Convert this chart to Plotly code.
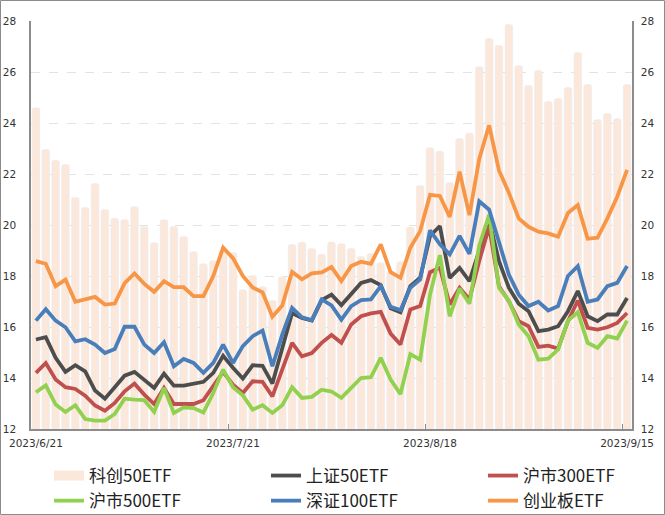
import plotly.graph_objects as go

# ---- data ----
dates = [
    "2023/6/21", "2023/6/26", "2023/6/27", "2023/6/28", "2023/6/29", "2023/6/30",
    "2023/7/3", "2023/7/4", "2023/7/5", "2023/7/6", "2023/7/7",
    "2023/7/10", "2023/7/11", "2023/7/12", "2023/7/13", "2023/7/14",
    "2023/7/17", "2023/7/18", "2023/7/19", "2023/7/20", "2023/7/21",
    "2023/7/24", "2023/7/25", "2023/7/26", "2023/7/27", "2023/7/28", "2023/7/31",
    "2023/8/1", "2023/8/2", "2023/8/3", "2023/8/4",
    "2023/8/7", "2023/8/8", "2023/8/9", "2023/8/10", "2023/8/11",
    "2023/8/14", "2023/8/15", "2023/8/16", "2023/8/17", "2023/8/18",
    "2023/8/21", "2023/8/22", "2023/8/23", "2023/8/24", "2023/8/25",
    "2023/8/28", "2023/8/29", "2023/8/30", "2023/8/31", "2023/9/1",
    "2023/9/4", "2023/9/5", "2023/9/6", "2023/9/7", "2023/9/8",
    "2023/9/11", "2023/9/12", "2023/9/13", "2023/9/14", "2023/9/15",
]
tick_dates = ["2023/6/21", "2023/7/21", "2023/8/18", "2023/9/15"]

kc50 = [24.60, 22.96, 22.54, 22.37, 21.08, 20.69, 21.63, 20.61, 20.26, 20.21,
        20.72, 19.94, 19.30, 20.21, 19.94, 19.55, 18.95, 18.48, 18.60, 19.00,
        18.91, 17.46, 18.02, 17.58, 17.04, 17.97, 19.24, 19.32, 19.08, 18.85,
        19.33, 19.26, 19.08, 18.76, 18.88, 18.52, 18.20, 18.56, 19.92, 21.55,
        23.03, 22.89, 21.66, 23.39, 23.60, 26.21, 27.31, 27.04, 27.86, 26.25,
        25.47, 26.06, 24.84, 24.96, 25.39, 26.76, 25.51, 24.13, 24.37, 24.17,
        25.51]
sz50 = [15.51, 15.60, 14.79, 14.24, 14.50, 14.26, 13.51, 13.19, 13.64, 14.09,
        14.24, 13.94, 13.61, 14.17, 13.70, 13.70, 13.78, 13.85, 14.20, 14.87,
        14.40, 13.98, 14.50, 14.48, 13.78, 15.20, 16.55, 16.35, 16.25, 17.05,
        17.27, 16.86, 17.30, 17.73, 17.84, 17.64, 16.73, 16.58, 17.60, 17.93,
        19.57, 19.96, 17.93, 18.32, 17.80, 19.05, 20.20, 18.58, 17.54, 16.91,
        16.62, 15.84, 15.90, 16.03, 16.62, 17.41, 16.42, 16.23, 16.49, 16.49,
        17.14]
hs300 = [14.20, 14.59, 13.94, 13.64, 13.57, 13.31, 12.92, 12.72, 13.02, 13.48,
         13.78, 13.35, 12.98, 13.61, 12.98, 12.98, 12.98, 13.13, 13.68, 14.24,
         13.74, 13.41, 13.87, 13.85, 13.28, 14.33, 15.38, 14.85, 14.98, 15.38,
         15.69, 15.38, 16.10, 16.42, 16.53, 16.59, 15.74, 15.31, 16.69, 16.82,
         18.15, 18.32, 16.88, 17.54, 17.08, 18.60, 19.93, 17.60, 17.01, 16.23,
         16.03, 15.22, 15.27, 15.15, 16.23, 17.04, 15.97, 15.90, 15.99, 16.16,
         16.55]
hs500 = [13.44, 13.71, 12.96, 12.67, 12.93, 12.39, 12.33, 12.33, 12.59, 13.19,
         13.15, 13.13, 12.67, 13.61, 12.63, 12.85, 12.82, 12.65, 13.41, 14.33,
         13.64, 13.32, 12.76, 12.93, 12.63, 12.93, 13.64, 13.22, 13.26, 13.54,
         13.47, 13.22, 13.61, 14.00, 14.03, 14.79, 13.94, 13.37, 14.94, 14.72,
         17.27, 18.82, 16.42, 17.51, 16.91, 19.20, 20.40, 17.54, 17.04, 16.10,
         15.64, 14.72, 14.76, 15.12, 16.25, 16.58, 15.38, 15.18, 15.64, 15.55,
         16.25]
sz100 = [16.25, 16.70, 16.25, 15.99, 15.44, 15.52, 15.31, 14.98, 15.14, 16.01,
         16.01, 15.31, 14.98, 15.40, 14.46, 14.75, 14.59, 14.20, 14.59, 15.31,
         14.59, 15.25, 15.64, 15.86, 14.46, 15.70, 16.75, 16.38, 16.27, 17.08,
         16.85, 16.29, 16.82, 17.05, 17.08, 17.60, 16.79, 16.66, 17.54, 17.86,
         19.79, 19.24, 18.85, 19.57, 18.87, 20.93, 20.60, 19.37, 18.06, 17.27,
         16.82, 16.99, 16.65, 16.82, 18.00, 18.39, 16.99, 17.08, 17.60, 17.73,
         18.39]
cyb = [18.58, 18.48, 17.60, 17.86, 16.99, 17.08, 17.18, 16.88, 16.92, 17.72,
       18.10, 17.69, 17.38, 17.80, 17.56, 17.56, 17.21, 17.21, 18.00, 19.11,
       18.70, 18.00, 17.55, 17.36, 16.40, 16.84, 18.16, 17.87, 18.10, 18.14,
       18.35, 17.80, 18.39, 18.56, 18.48, 19.24, 18.15, 17.93, 19.11, 19.76,
       21.18, 21.14, 20.32, 22.09, 20.39, 22.60, 23.91, 22.14, 21.27, 20.26,
       19.93, 19.74, 19.67, 19.54, 20.47, 20.78, 19.46, 19.50, 20.26, 21.11,
       22.16]

names = ["科创50ETF", "上证50ETF", "沪市300ETF", "沪市500ETF", "深证100ETF", "创业板ETF"]
line_series = [sz50, hs300, hs500, sz100, cyb]
line_colors = ["#4D4D4D", "#C0504D", "#92D050", "#4A7EBB", "#F79646"]
bar_color = "#FCE8DA"

W, H = 665, 515
ML, MR, MT, MB = 31, 33, 21, 86
PW, PH = W - ML - MR, H - MT - MB

# legend columns (3 columns x 2 rows, like the reference)
legend_ids = ["legend", "legend2", "legend3", "legend", "legend2", "legend3"]
legend_x_px = [49, 266, 483]
legend_top_px = 458

fig = go.Figure()

# legend proxy for the bars (wide swatch like the reference)
fig.add_trace(go.Scatter(x=[dates[0]], y=[None], mode="lines", name=names[0],
                         line=dict(color=bar_color, width=14), yaxis="y",
                         legend=legend_ids[0], legendgroup="g0", hoverinfo="skip"))
fig.add_trace(go.Bar(x=dates, y=kc50, name=names[0],
                     marker=dict(color=bar_color, cornerradius=2),
                     showlegend=False, yaxis="y"))
for k, (nm, vals, col) in enumerate(zip(names[1:], line_series, line_colors), start=1):
    fig.add_trace(go.Scatter(x=dates, y=vals, name=nm, mode="lines",
                             line=dict(color=col, width=3.8), yaxis="y2",
                             legend=legend_ids[k], legendgroup="g%d" % k))

tick_font = dict(family="DejaVu Sans", size=10.5, color="#333333")
axis_color = "#8C8C8C"
legend_font = dict(family="Noto Sans CJK SC", size=17, color="#222222")


def legend_cfg(xpx):
    return dict(orientation="v", xref="container", yref="container",
                x=xpx / W, xanchor="left", y=1 - legend_top_px / H, yanchor="top",
                font=legend_font, tracegroupgap=4, itemwidth=30,
                bgcolor="rgba(0,0,0,0)", borderwidth=0, traceorder="normal")


fig.update_layout(
    width=W, height=H,
    margin=dict(l=ML, r=MR, t=MT, b=MB, pad=0, autoexpand=False),
    plot_bgcolor="white", paper_bgcolor="white",
    bargap=0.22,
    showlegend=True,
    legend=legend_cfg(legend_x_px[0]),
    legend2=legend_cfg(legend_x_px[1]),
    legend3=legend_cfg(legend_x_px[2]),
    xaxis=dict(type="category", categoryorder="array", categoryarray=dates,
               tickmode="array", tickvals=tick_dates, ticktext=tick_dates,
               tickson="boundaries", ticks="inside", ticklen=5, tickcolor=axis_color,
               showline=True, linecolor=axis_color, linewidth=1.5, showgrid=False,
               tickangle=0, tickfont=tick_font, ticklabelstandoff=4, automargin=False,
               range=[-0.5, len(dates) - 0.5], fixedrange=True),
    yaxis=dict(range=[12, 28], dtick=2, tick0=12, showgrid=True, gridcolor="#E3E3E3",
               griddash="dash", gridwidth=1, showline=True, linecolor=axis_color,
               linewidth=1.5, ticks="", tickfont=tick_font, ticklabelstandoff=11,
               zeroline=False, automargin=False),
    yaxis2=dict(range=[12, 28], dtick=2, tick0=12, overlaying="y", side="right",
                showgrid=False, showline=True, linecolor=axis_color, linewidth=1.5,
                ticks="", tickfont=tick_font, ticklabelstandoff=5, zeroline=False,
                automargin=False),
    shapes=[dict(type="rect", xref="paper", yref="paper",
                 x0=(0.5 - ML) / PW, x1=(W - 0.5 - ML) / PW,
                 y0=-(MB - 0.5) / PH, y1=1 + (MT - 0.5) / PH,
                 line=dict(color="#8C8C8C", width=1), layer="below")],
)

fig.write_html(
    "out.html",
    config={"displayModeBar": False},
    post_script="document.body.style.margin='0';document.body.style.padding='0';"
                "document.body.style.overflow='hidden';",
)
